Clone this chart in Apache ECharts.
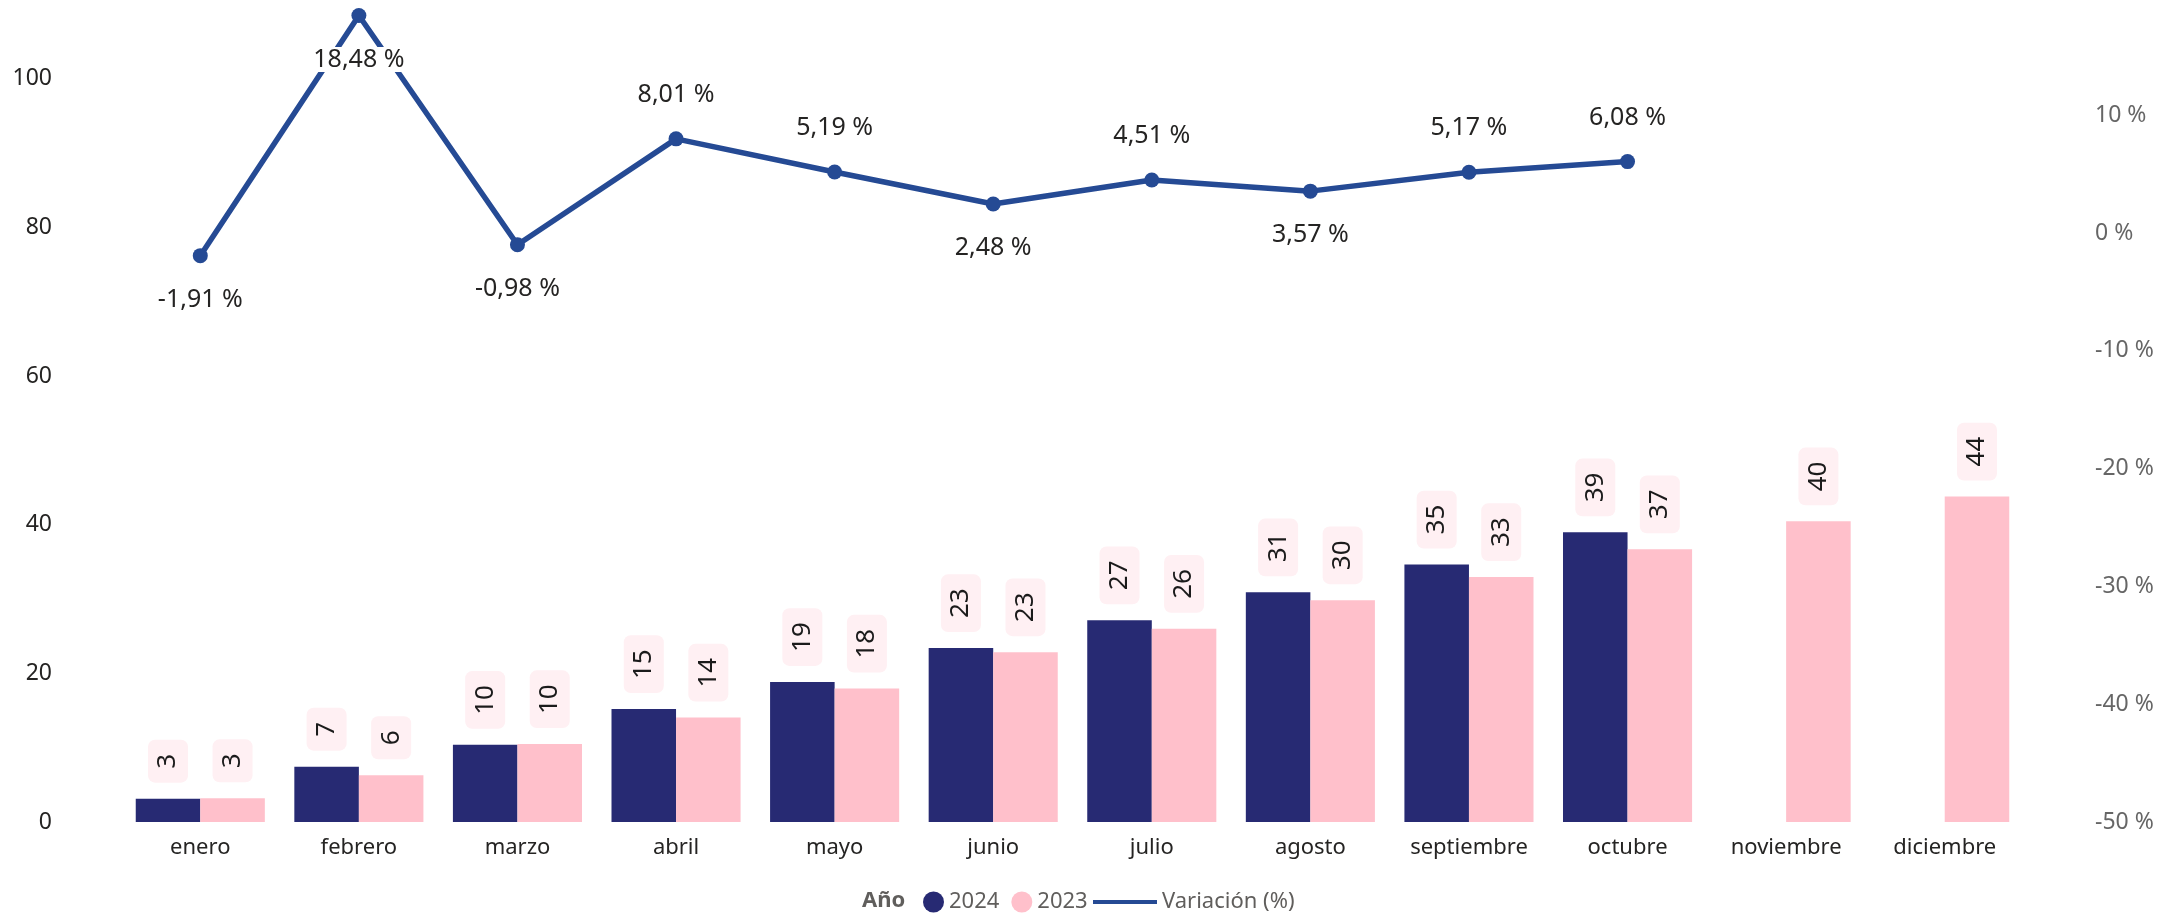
<!DOCTYPE html>
<html>
<head>
<meta charset="utf-8">
<script src="https://cdn.jsdelivr.net/npm/echarts@6/dist/echarts.min.js"></script>
<style>
  html, body { margin: 0; padding: 0; background: #ffffff; }
  #chart { width: 2184px; height: 914px; }
</style>
</head>
<body>
<div id="chart"></div>
<script>
// ---- data ----
const months = ['enero', 'febrero', 'marzo', 'abril', 'mayo', 'junio', 'julio', 'agosto', 'septiembre', 'octubre', 'noviembre', 'diciembre'];
const valores2024 = [3.14, 7.45, 10.38, 15.2, 18.85, 23.4, 27.15, 30.9, 34.65, 38.97];
const valores2023 = [3.2, 6.3, 10.48, 14.05, 17.95, 22.85, 26.0, 29.85, 32.95, 36.7, 40.45, 43.8];
const variacion = [-1.91, 18.48, -0.98, 8.01, 5.19, 2.48, 4.51, 3.57, 5.17, 6.08];
const serieNames = ['2024', '2023', 'Variación (%)'];

// label side for the line labels (style, not data)
const variacionLabelSide = ['bottom', 'bottom', 'bottom', 'top', 'top', 'bottom', 'top', 'bottom', 'top', 'top'];

const FONT = '"Noto Sans", "Open Sans", sans-serif';

const barLabel = {
  show: true,
  position: 'top',
  rotate: 90,
  align: 'left',
  verticalAlign: 'middle',
  distance: 16,
  fontSize: 26,
  lineHeight: 28,
  fontFamily: FONT,
  color: '#1b1b1b',
  backgroundColor: '#FFF0F3',
  borderRadius: 7,
  padding: [6, 14, 6, 14],
  formatter: p => Math.round(p.value)
};

const lineData = variacion.map((v, i) => ({
  value: v,
  label: { position: variacionLabelSide[i] }
}));

const chart = echarts.init(document.getElementById('chart'));
chart.setOption({
  animation: false,
  textStyle: { fontFamily: FONT },
  grid: { left: 121, right: 160, top: 0, bottom: 92, containLabel: false },
  xAxis: {
    type: 'category',
    data: months,
    axisLine: { show: false },
    axisTick: { show: false },
    axisLabel: { fontSize: 22, color: '#252423', margin: 15, fontFamily: FONT }
  },
  yAxis: [
    {
      type: 'value', min: 0, max: 110.6, interval: 20,
      splitLine: { show: false }, axisLine: { show: false }, axisTick: { show: false },
      axisLabel: {
        fontSize: 23, color: '#252423', margin: 69, fontFamily: FONT,
        formatter: v => (v % 20 === 0 ? String(v) : '')
      }
    },
    {
      type: 'value', min: -50, max: 19.8, interval: 10, position: 'right',
      splitLine: { show: false }, axisLine: { show: false }, axisTick: { show: false },
      axisLabel: {
        fontSize: 23, color: '#666666', margin: 71, fontFamily: FONT,
        formatter: v => (Math.abs(v % 10) < 1e-9 && v <= 10 ? v + ' %' : '')
      }
    }
  ],
  legend: [
    {
      left: 923, top: 891, padding: 0,
      icon: 'circle', itemWidth: 21, itemHeight: 21, itemGap: 12,
      data: [serieNames[0], serieNames[1]],
      textStyle: { fontSize: 22, color: '#605E5C', fontFamily: FONT }
    },
    {
      left: 1093, top: 891, padding: 0,
      itemWidth: 64, itemHeight: 4,
      data: [{ name: serieNames[2], icon: 'rect' }],
      textStyle: { fontSize: 22, color: '#605E5C', fontFamily: FONT }
    }
  ],
  graphic: [
    {
      type: 'text', left: 862, top: 890,
      style: { text: 'Año', font: 'bold 22px ' + FONT, fill: '#605E5C' }
    }
  ],
  series: [
    {
      name: serieNames[0], type: 'bar', data: valores2024,
      barGap: '0%', barCategoryGap: '18.6%',
      itemStyle: { color: '#272A73' },
      label: barLabel
    },
    {
      name: serieNames[1], type: 'bar', data: valores2023,
      barGap: '0%', barCategoryGap: '18.6%',
      itemStyle: { color: '#FFC0CB' },
      label: barLabel
    },
    {
      name: serieNames[2], type: 'line', yAxisIndex: 1, data: lineData,
      z: 10,
      symbol: 'circle', symbolSize: 15,
      lineStyle: { width: 5.5, color: '#254A94' },
      itemStyle: { color: '#254A94' },
      label: {
        show: true,
        distance: 24,
        fontSize: 25,
        color: '#252423',
        fontFamily: FONT,
        backgroundColor: '#ffffff',
        padding: [0, 3],
        formatter: p => p.value.toFixed(2).replace('.', ',') + ' %'
      }
    }
  ]
});
</script>
</body>
</html>
